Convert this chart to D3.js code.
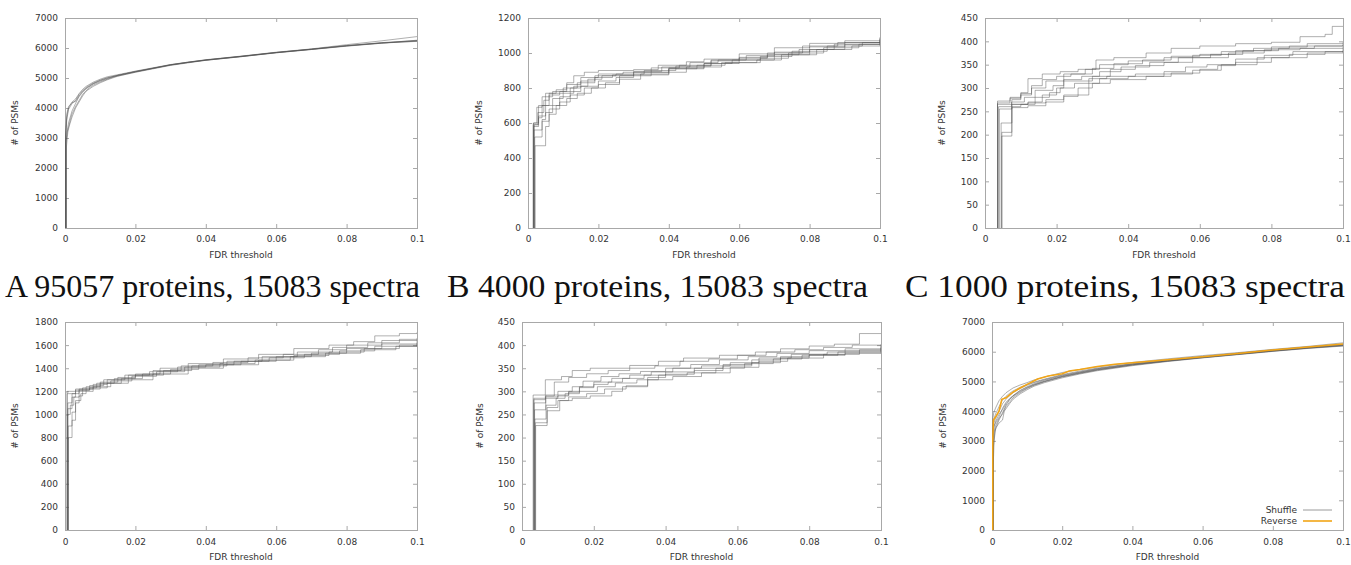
<!DOCTYPE html>
<html><head><meta charset="utf-8">
<script src="https://cdn.jsdelivr.net/npm/d3@7"></script>
<style>body{margin:0;background:#fff} svg{display:block}</style>
</head><body><svg id="c" width="1351" height="565"></svg>
<script>
// ---------------- DATA ----------------
const xTicks = [0, 0.02, 0.04, 0.06, 0.08, 0.1];
const xTickLabels = ["0", "0.02", "0.04", "0.06", "0.08", "0.1"];
const yTicks7000 = [0, 1000, 2000, 3000, 4000, 5000, 6000, 7000];
const yTicks1200 = [0, 200, 400, 600, 800, 1000, 1200];
const yTicks450 = [0, 50, 100, 150, 200, 250, 300, 350, 400, 450];
const yTicks1800 = [0, 200, 400, 600, 800, 1000, 1200, 1400, 1600, 1800];
const xLabel = "FDR threshold";
const yLabel = "# of PSMs";
const captions = ["A 95057 proteins, 15083 spectra", "B 4000 proteins, 15083 spectra", "C 1000 proteins, 15083 spectra"];
const legendLabels = ["Shuffle", "Reverse"];

const seriesA = [
 [[0.0002,0],[0.0002,3000],[0.0005,3600],[0.001,3950],[0.0015,4050],[0.002,4150],[0.003,4250],[0.004,4450],[0.005,4580],[0.006,4680],[0.007,4760],[0.008,4830],[0.01,4930],[0.012,5010],[0.014,5060],[0.017,5140],[0.02,5220],[0.025,5330],[0.03,5440],[0.035,5530],[0.04,5600],[0.05,5720],[0.06,5850],[0.07,5960],[0.08,6080],[0.09,6180],[0.1,6250]],
 [[0.0003,0],[0.0003,2800],[0.0006,3200],[0.001,3350],[0.0015,3600],[0.002,3800],[0.003,4050],[0.004,4250],[0.005,4450],[0.006,4580],[0.007,4680],[0.008,4760],[0.01,4870],[0.012,4960],[0.014,5040],[0.017,5120],[0.02,5200],[0.025,5320],[0.03,5430],[0.035,5520],[0.04,5590],[0.05,5710],[0.06,5840],[0.07,5950],[0.08,6070],[0.09,6160],[0.1,6230]],
 [[0.0002,0],[0.0002,3100],[0.0005,3700],[0.001,4000],[0.002,4200],[0.003,4300],[0.004,4480],[0.005,4620],[0.006,4720],[0.008,4860],[0.01,4960],[0.012,5040],[0.015,5110],[0.02,5230],[0.025,5340],[0.03,5450],[0.04,5610],[0.05,5730],[0.06,5860],[0.07,5970],[0.075,6040],[0.08,6110],[0.09,6240],[0.1,6380]],
 [[0.0003,0],[0.0003,2900],[0.0007,3300],[0.001,3500],[0.002,3900],[0.003,4150],[0.004,4380],[0.005,4520],[0.006,4640],[0.008,4800],[0.01,4900],[0.012,4980],[0.015,5090],[0.02,5210],[0.025,5320],[0.03,5440],[0.04,5600],[0.05,5720],[0.06,5850],[0.07,5960],[0.08,6070],[0.09,6170],[0.1,6240]],
 [[0.0002,0],[0.0002,3050],[0.0005,3800],[0.001,4050],[0.002,4180],[0.003,4220],[0.004,4400],[0.005,4560],[0.006,4660],[0.008,4810],[0.01,4920],[0.012,5000],[0.015,5090],[0.02,5210],[0.03,5440],[0.04,5600],[0.05,5720],[0.06,5850],[0.07,5960],[0.08,6080],[0.09,6170],[0.1,6220]],
 [[0.0004,0],[0.0004,2700],[0.0008,3200],[0.0012,3400],[0.002,3700],[0.003,4000],[0.004,4200],[0.005,4400],[0.006,4560],[0.008,4720],[0.01,4840],[0.012,4940],[0.015,5060],[0.02,5190],[0.03,5420],[0.04,5590],[0.05,5710],[0.06,5840],[0.07,5950],[0.08,6060],[0.09,6160],[0.1,6260]]
];

const seriesB = [
 [[0.0015,0],[0.0015,600],[0.003,700],[0.005,770],[0.008,790],[0.011,830],[0.013,870],[0.016,890],[0.02,900],[0.03,905],[0.037,930],[0.045,950],[0.05,965],[0.06,995],[0.07,1030],[0.08,1055],[0.09,1070],[0.1,1085]],
 [[0.0018,0],[0.0018,590],[0.003,630],[0.004,700],[0.006,760],[0.009,780],[0.012,800],[0.015,840],[0.019,870],[0.025,880],[0.033,900],[0.042,925],[0.052,960],[0.06,970],[0.068,1000],[0.078,1040],[0.088,1060],[0.1,1075]],
 [[0.002,0],[0.002,470],[0.005,580],[0.006,650],[0.008,700],[0.011,740],[0.014,770],[0.018,800],[0.022,830],[0.026,870],[0.035,890],[0.045,920],[0.055,945],[0.065,960],[0.072,990],[0.082,1020],[0.092,1040],[0.1,1050]],
 [[0.0016,0],[0.0016,580],[0.003,640],[0.005,700],[0.007,740],[0.01,770],[0.013,810],[0.017,850],[0.021,870],[0.03,890],[0.04,915],[0.05,940],[0.058,960],[0.066,980],[0.075,1010],[0.085,1040],[0.095,1060],[0.1,1070]],
 [[0.0017,0],[0.0017,560],[0.004,610],[0.006,680],[0.009,720],[0.012,760],[0.016,800],[0.02,820],[0.026,850],[0.032,880],[0.04,910],[0.048,930],[0.056,945],[0.066,970],[0.074,1000],[0.084,1030],[0.094,1050],[0.1,1060]],
 [[0.0019,0],[0.0019,520],[0.004,620],[0.005,660],[0.007,700],[0.009,750],[0.012,780],[0.015,810],[0.02,840],[0.025,860],[0.03,875],[0.04,910],[0.05,940],[0.06,960],[0.07,990],[0.08,1020],[0.09,1050],[0.1,1090]],
 [[0.0015,0],[0.0015,590],[0.0028,660],[0.0045,730],[0.006,770],[0.01,800],[0.014,830],[0.019,860],[0.024,875],[0.03,895],[0.038,920],[0.046,945],[0.054,960],[0.062,985],[0.07,1005],[0.08,1035],[0.09,1060],[0.1,1080]],
 [[0.0016,0],[0.0016,600],[0.0025,690],[0.004,750],[0.007,780],[0.011,820],[0.015,860],[0.02,880],[0.027,890],[0.035,915],[0.043,930],[0.052,955],[0.06,975],[0.068,990],[0.077,1020],[0.087,1050],[0.1,1065]]
];

const seriesC = [
 [[0.0035,0],[0.0035,272],[0.007,280],[0.01,290],[0.012,320],[0.016,330],[0.021,335],[0.026,340],[0.031,360],[0.036,365],[0.045,375],[0.052,385],[0.06,390],[0.07,395],[0.08,398],[0.088,410],[0.095,415],[0.097,432],[0.1,432]],
 [[0.0035,0],[0.0035,265],[0.0075,275],[0.01,285],[0.013,300],[0.017,315],[0.022,330],[0.028,340],[0.032,350],[0.04,358],[0.05,365],[0.058,370],[0.066,378],[0.075,385],[0.085,390],[0.1,392]],
 [[0.0038,0],[0.0038,260],[0.0074,270],[0.011,280],[0.014,295],[0.019,305],[0.022,318],[0.027,325],[0.032,335],[0.038,345],[0.046,355],[0.054,365],[0.063,372],[0.072,380],[0.082,385],[0.092,390],[0.1,395]],
 [[0.004,0],[0.004,255],[0.0075,265],[0.012,270],[0.016,285],[0.02,300],[0.022,315],[0.03,325],[0.035,340],[0.042,348],[0.05,355],[0.058,365],[0.068,375],[0.078,382],[0.088,385],[0.1,388]],
 [[0.0045,0],[0.0045,225],[0.0075,260],[0.01,265],[0.014,280],[0.018,290],[0.021,300],[0.025,310],[0.029,320],[0.034,325],[0.042,330],[0.05,335],[0.056,345],[0.062,350],[0.07,362],[0.078,370],[0.086,378],[0.1,385]],
 [[0.0047,0],[0.0047,205],[0.0075,258],[0.012,262],[0.017,270],[0.022,285],[0.026,300],[0.03,310],[0.035,318],[0.045,325],[0.052,332],[0.06,340],[0.065,348],[0.07,355],[0.08,365],[0.09,375],[0.1,380]],
 [[0.0047,0],[0.0047,197],[0.0075,265],[0.012,268],[0.017,275],[0.022,282],[0.026,285],[0.029,310],[0.032,320],[0.04,325],[0.05,330],[0.058,338],[0.066,350],[0.076,365],[0.085,372],[0.095,378],[0.1,378]],
 [[0.0035,0],[0.0035,268],[0.007,278],[0.01,288],[0.013,305],[0.016,318],[0.02,325],[0.024,330],[0.03,342],[0.036,352],[0.044,360],[0.052,368],[0.06,372],[0.07,380],[0.08,388],[0.09,395],[0.1,398]]
];

const seriesD = [
 [[0.0006,0],[0.0006,1200],[0.003,1220],[0.006,1240],[0.01,1280],[0.015,1320],[0.02,1350],[0.027,1400],[0.035,1440],[0.045,1480],[0.055,1520],[0.065,1570],[0.075,1600],[0.082,1630],[0.088,1680],[0.095,1700],[0.1,1710]],
 [[0.0008,0],[0.0008,1050],[0.002,1150],[0.003,1200],[0.005,1230],[0.009,1270],[0.014,1310],[0.02,1340],[0.028,1380],[0.036,1420],[0.046,1460],[0.056,1500],[0.066,1540],[0.076,1580],[0.086,1620],[0.095,1650],[0.1,1660]],
 [[0.001,0],[0.001,800],[0.002,950],[0.003,1100],[0.004,1160],[0.005,1200],[0.008,1240],[0.013,1290],[0.019,1330],[0.026,1370],[0.034,1410],[0.044,1440],[0.054,1470],[0.064,1500],[0.074,1530],[0.084,1560],[0.094,1590],[0.1,1600]],
 [[0.0007,0],[0.0007,1000],[0.0015,1080],[0.0025,1150],[0.004,1210],[0.007,1250],[0.011,1300],[0.017,1340],[0.024,1370],[0.032,1410],[0.04,1430],[0.05,1460],[0.06,1500],[0.07,1530],[0.08,1570],[0.09,1610],[0.1,1640]],
 [[0.0009,0],[0.0009,900],[0.002,1020],[0.003,1120],[0.0045,1180],[0.006,1220],[0.01,1270],[0.016,1310],[0.022,1350],[0.03,1390],[0.038,1430],[0.048,1460],[0.058,1490],[0.068,1520],[0.078,1550],[0.088,1590],[0.1,1620]],
 [[0.0008,0],[0.0008,1100],[0.002,1180],[0.004,1220],[0.008,1260],[0.012,1300],[0.018,1340],[0.025,1380],[0.033,1420],[0.042,1450],[0.052,1490],[0.062,1520],[0.072,1560],[0.08,1600],[0.09,1640],[0.1,1650]],
 [[0.0006,0],[0.0006,1180],[0.003,1210],[0.007,1230],[0.012,1270],[0.018,1300],[0.025,1350],[0.035,1400],[0.045,1430],[0.055,1470],[0.065,1510],[0.075,1540],[0.085,1570],[0.095,1600],[0.1,1610]]
];

const seriesE = [
 [[0.0031,0],[0.0031,292],[0.0065,325],[0.011,332],[0.014,345],[0.019,350],[0.03,356],[0.038,365],[0.045,372],[0.055,378],[0.065,385],[0.072,392],[0.08,398],[0.087,402],[0.094,425],[0.1,425]],
 [[0.0033,0],[0.0033,282],[0.0065,290],[0.009,320],[0.013,330],[0.018,338],[0.024,345],[0.03,350],[0.037,355],[0.044,365],[0.052,370],[0.06,378],[0.068,385],[0.076,390],[0.084,395],[0.092,400],[0.1,402]],
 [[0.0034,0],[0.0034,275],[0.0066,285],[0.01,290],[0.013,300],[0.016,310],[0.02,320],[0.025,328],[0.03,335],[0.036,342],[0.042,350],[0.05,355],[0.058,362],[0.066,372],[0.075,380],[0.085,385],[0.1,395]],
 [[0.0035,0],[0.0035,260],[0.0066,288],[0.01,292],[0.013,298],[0.016,308],[0.02,315],[0.024,320],[0.028,328],[0.034,335],[0.04,342],[0.048,350],[0.056,358],[0.064,368],[0.072,375],[0.08,378],[0.09,382],[0.1,385]],
 [[0.0036,0],[0.0036,240],[0.0067,270],[0.0095,285],[0.012,295],[0.016,300],[0.021,310],[0.026,318],[0.032,325],[0.038,335],[0.046,340],[0.054,350],[0.062,360],[0.07,370],[0.078,378],[0.088,385],[0.1,390]],
 [[0.0037,0],[0.0037,232],[0.007,258],[0.0105,280],[0.013,288],[0.018,295],[0.023,305],[0.029,312],[0.035,325],[0.042,332],[0.05,340],[0.058,352],[0.066,365],[0.074,372],[0.084,380],[0.094,390],[0.1,398]],
 [[0.0038,0],[0.0038,226],[0.007,265],[0.01,280],[0.014,285],[0.019,290],[0.025,300],[0.028,310],[0.035,330],[0.04,337],[0.048,345],[0.056,355],[0.064,362],[0.072,372],[0.08,380],[0.09,388],[0.1,393]],
 [[0.0033,0],[0.0033,285],[0.0066,292],[0.01,300],[0.014,310],[0.017,322],[0.022,332],[0.027,338],[0.033,343],[0.04,350],[0.047,358],[0.055,368],[0.063,375],[0.071,382],[0.08,388],[0.09,392],[0.1,400]]
];

const seriesF = [
 [[0.0002,0],[0.0002,3200],[0.0005,3500],[0.001,3600],[0.002,3800],[0.003,4100],[0.004,4300],[0.005,4420],[0.006,4520],[0.008,4680],[0.01,4800],[0.012,4900],[0.015,5010],[0.02,5170],[0.025,5290],[0.03,5400],[0.04,5560],[0.05,5690],[0.06,5800],[0.07,5910],[0.08,6020],[0.09,6120],[0.1,6200]],
 [[0.0003,0],[0.0003,2000],[0.0006,3000],[0.001,3400],[0.0015,3550],[0.002,3700],[0.003,3950],[0.004,4200],[0.005,4380],[0.006,4500],[0.008,4650],[0.01,4780],[0.012,4880],[0.015,5000],[0.02,5160],[0.025,5280],[0.03,5390],[0.04,5560],[0.05,5690],[0.06,5810],[0.07,5920],[0.08,6030],[0.09,6130],[0.1,6220]],
 [[0.0002,0],[0.0002,3700],[0.0005,3950],[0.001,4100],[0.002,4350],[0.003,4500],[0.004,4620],[0.005,4700],[0.006,4780],[0.008,4880],[0.01,4960],[0.012,5050],[0.015,5150],[0.02,5300],[0.025,5400],[0.03,5490],[0.04,5640],[0.05,5760],[0.06,5870],[0.07,5970],[0.08,6080],[0.09,6180],[0.1,6300]],
 [[0.0003,0],[0.0003,3000],[0.0006,3300],[0.001,3500],[0.002,3750],[0.003,3900],[0.004,4150],[0.005,4300],[0.006,4450],[0.008,4620],[0.01,4760],[0.012,4870],[0.015,4990],[0.02,5150],[0.025,5270],[0.03,5380],[0.04,5550],[0.05,5680],[0.06,5800],[0.07,5910],[0.08,6020],[0.09,6120],[0.1,6210]],
 [[0.0002,0],[0.0002,3400],[0.0005,3700],[0.001,3900],[0.002,4150],[0.003,4380],[0.004,4500],[0.005,4600],[0.006,4680],[0.008,4800],[0.01,4900],[0.012,4980],[0.015,5080],[0.02,5230],[0.025,5350],[0.03,5450],[0.04,5600],[0.05,5730],[0.06,5840],[0.07,5950],[0.08,6060],[0.09,6160],[0.1,6260]],
 [[0.0004,0],[0.0004,2800],[0.0008,3300],[0.0012,3450],[0.002,3600],[0.003,3700],[0.0035,4000],[0.005,4250],[0.006,4400],[0.008,4580],[0.01,4720],[0.012,4840],[0.015,4960],[0.02,5120],[0.025,5250],[0.03,5360],[0.04,5530],[0.05,5670],[0.06,5790],[0.07,5900],[0.08,6010],[0.09,6110],[0.1,6190]],
 [[0.0002,0],[0.0002,3300],[0.0005,3600],[0.001,3750],[0.002,4000],[0.003,4250],[0.004,4400],[0.005,4520],[0.006,4620],[0.008,4760],[0.01,4870],[0.012,4960],[0.015,5060],[0.02,5210],[0.025,5320],[0.03,5430],[0.04,5590],[0.05,5710],[0.06,5830],[0.07,5940],[0.08,6050],[0.09,6150],[0.1,6240]],
 [[0.0003,0],[0.0003,3100],[0.0006,3450],[0.001,3650],[0.002,3900],[0.003,4050],[0.004,4250],[0.005,4400],[0.006,4520],[0.008,4700],[0.01,4820],[0.012,4920],[0.015,5040],[0.02,5190],[0.025,5310],[0.03,5420],[0.04,5580],[0.05,5700],[0.06,5820],[0.07,5930],[0.08,6040],[0.09,6140],[0.1,6230]]
];

const reverseF = [[0.0002,0],[0.0002,3000],[0.0004,3700],[0.001,3800],[0.002,4000],[0.0028,4400],[0.004,4450],[0.005,4550],[0.006,4640],[0.008,4780],[0.01,4900],[0.013,5080],[0.016,5180],[0.02,5260],[0.022,5350],[0.025,5400],[0.03,5500],[0.035,5580],[0.04,5630],[0.05,5730],[0.06,5830],[0.07,5940],[0.08,6060],[0.09,6160],[0.1,6260]];

// ---------------- LAYOUT ----------------
const panels = [
  {series: seriesA, yMax: 7000, yTicks: yTicks7000, frame: [65, 18, 417, 228], ylx: 15, step: false},
  {series: seriesB, yMax: 1200, yTicks: yTicks1200, frame: [528, 18, 880, 228], ylx: 479, step: true},
  {series: seriesC, yMax: 450, yTicks: yTicks450, frame: [985, 18, 1343, 228], ylx: 942, step: true},
  {series: seriesD, yMax: 1800, yTicks: yTicks1800, frame: [65, 322, 417, 530], ylx: 15, step: true},
  {series: seriesE, yMax: 450, yTicks: yTicks450, frame: [522, 322, 881, 530], ylx: 480, step: true},
  {series: seriesF, yMax: 7000, yTicks: yTicks7000, frame: [992, 322, 1343, 530], ylx: 943, step: false, reverse: reverseF}
];

const svg = d3.select("#c");
const FONT = "DejaVu Sans, sans-serif";
const FRAME = "#a8a8a8";
const TEXT = "#333";

panels.forEach((p, i) => {
  const [x0, y0, x1, y1] = p.frame;
  const x = d3.scaleLinear().domain([0, 0.1]).range([x0, x1]);
  const y = d3.scaleLinear().domain([0, p.yMax]).range([y1, y0]);
  const g = svg.append("g");

  const clipId = "clip" + i;
  svg.append("clipPath").attr("id", clipId).append("rect")
    .attr("x", x0).attr("y", y0 - 1).attr("width", x1 - x0).attr("height", y1 - y0 + 1);

  const axB = g.append("g").attr("transform", `translate(0,${y1})`)
    .call(d3.axisBottom(x).tickValues(xTicks).tickFormat((d, k) => xTickLabels[k]).tickSize(-4).tickPadding(i < 3 ? 8 : 8.5));
  const axT = g.append("g").attr("transform", `translate(0,${y0})`)
    .call(d3.axisTop(x).tickValues(xTicks).tickFormat("").tickSize(-4));
  const axL = g.append("g").attr("transform", `translate(${x0},0)`)
    .call(d3.axisLeft(y).tickValues(p.yTicks).tickFormat(d3.format("d")).tickSize(-4).tickPadding(7));
  const axR = g.append("g").attr("transform", `translate(${x1},0)`)
    .call(d3.axisRight(y).tickValues(p.yTicks).tickFormat("").tickSize(-4));
  [axB, axT, axL, axR].forEach(a => {
    a.select(".domain").remove();
    a.selectAll("line").attr("stroke", FRAME);
    a.selectAll("text").attr("fill", TEXT).style("font-family", FONT).style("font-size", "9px");
  });

  g.append("rect").attr("x", x0 + 0.5).attr("y", y0 + 0.5).attr("width", x1 - x0).attr("height", y1 - y0)
    .attr("fill", "none").attr("stroke", FRAME).attr("stroke-width", 1);

  const line = d3.line().x(d => x(d[0])).y(d => y(d[1]))
    .curve(p.step ? d3.curveStepAfter : d3.curveLinear);
  const lg = g.append("g").attr("clip-path", `url(#${clipId})`);
  lg.selectAll("path.s").data(p.series).join("path").attr("class", "s")
    .attr("d", line).attr("fill", "none").attr("stroke", "#505050")
    .attr("stroke-opacity", 0.5).attr("stroke-width", 0.9);
  if (p.reverse) {
    lg.append("path").datum(p.reverse).attr("d", line).attr("fill", "none")
      .attr("stroke", "#f2a516").attr("stroke-width", 1.6);
  }

  g.append("text").attr("x", (x0 + x1) / 2).attr("y", i < 3 ? 258 : 560)
    .attr("text-anchor", "middle").attr("fill", TEXT).style("font-family", FONT).style("font-size", "9px")
    .text(xLabel);
  g.append("text").attr("transform", `translate(${p.ylx + 3},${(y0 + y1) / 2}) rotate(-90)`)
    .attr("text-anchor", "middle").attr("fill", TEXT).style("font-family", FONT).style("font-size", "9px")
    .text(yLabel);

  if (p.reverse) {
    const leg = g.append("g");
    const items = [{label: legendLabels[0], color: "#9a9a9a", w: 1}, {label: legendLabels[1], color: "#f2a516", w: 1.6}];
    items.forEach((it, k) => {
      const ly = 510 + k * 11;
      leg.append("text").attr("x", 1297).attr("y", ly + 3).attr("text-anchor", "end")
        .attr("fill", TEXT).style("font-family", FONT).style("font-size", "9px").text(it.label);
      leg.append("line").attr("x1", 1303).attr("x2", 1332).attr("y1", ly).attr("y2", ly)
        .attr("stroke", it.color).attr("stroke-width", it.w);
    });
  }
});

// captions
const capX = [5, 447, 905];
const capW = [415, 421, 440];
captions.forEach((c, k) => {
  svg.append("text").attr("x", capX[k]).attr("y", 297)
    .attr("textLength", capW[k]).attr("lengthAdjust", "spacingAndGlyphs")
    .style("font-family", "Liberation Serif, serif").style("font-size", "31px").attr("fill", "#111")
    .text(c);
});
</script>
</body></html>
